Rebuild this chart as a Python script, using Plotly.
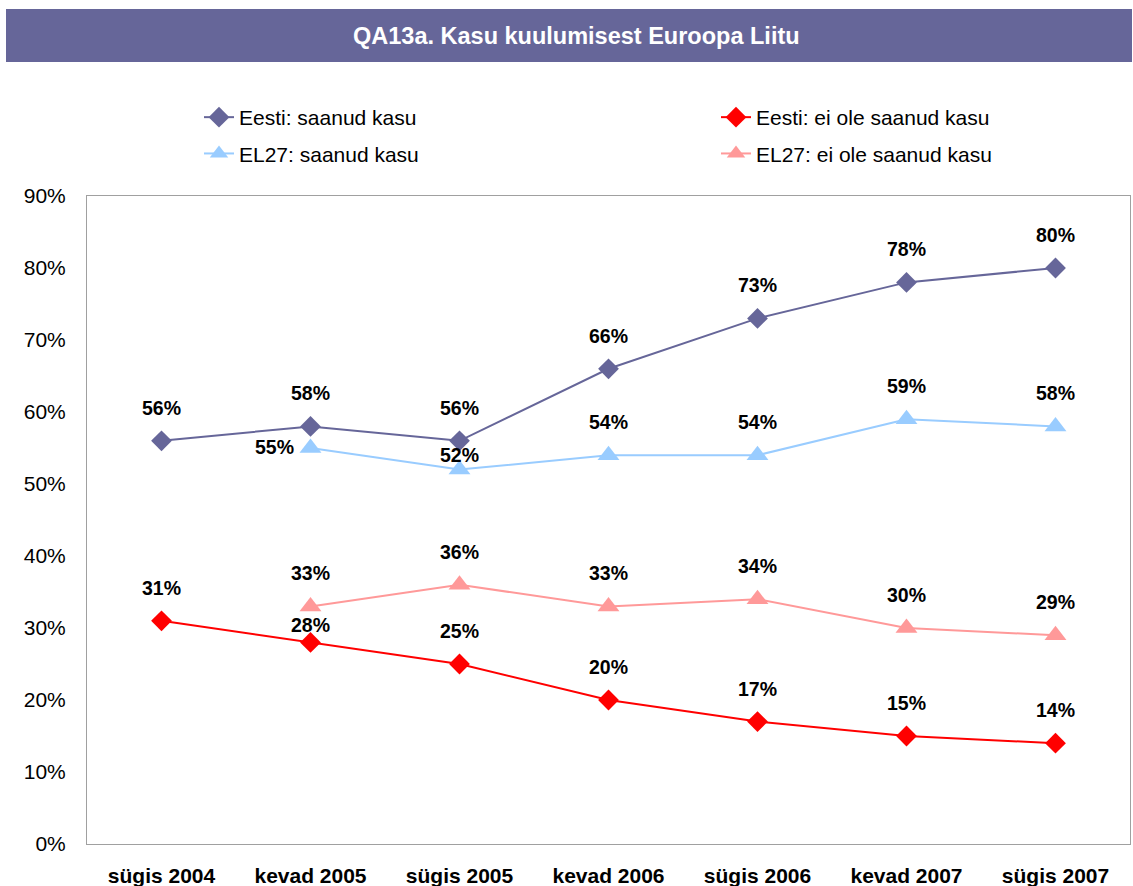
import plotly.graph_objects as go

categories = ["sügis 2004", "kevad 2005", "sügis 2005", "kevad 2006", "sügis 2006", "kevad 2007", "sügis 2007"]
eesti_saanud = [56, 58, 56, 66, 73, 78, 80]
eesti_ei_ole = [31, 28, 25, 20, 17, 15, 14]
el27_saanud = [None, 55, 52, 54, 54, 59, 58]
el27_ei_ole = [None, 33, 36, 33, 34, 30, 29]
y_ticks = [0, 10, 20, 30, 40, 50, 60, 70, 80, 90]

FONT = "Arial, 'Liberation Sans', sans-serif"

# plot-area geometry in pixels (used only to place decoration in paper coords)
PL, PR, PT, PB = 87, 1130, 196, 844
PW, PH = PR - PL, PB - PT


def px_x(x):
    return (x - PL) / PW


def px_y(y):
    return (PB - y) / PH


series = [
    ("Eesti: saanud kasu", eesti_saanud, "#666699", "diamond", 16, "legend"),
    ("EL27: saanud kasu", el27_saanud, "#99CCFF", "triangle-up", 19, "legend"),
    ("Eesti: ei ole saanud kasu", eesti_ei_ole, "#FF0000", "diamond", 16, "legend2"),
    ("EL27: ei ole saanud kasu", el27_ei_ole, "#FF9999", "triangle-up", 19, "legend2"),
]

# label placement overrides (xshift, yshift) by (series name, index)
label_shift = {
    ("EL27: saanud kasu", 1): (-36, 1),
    ("EL27: saanud kasu", 2): (0, 15),
    ("Eesti: ei ole saanud kasu", 1): (0, 17),
}

fig = go.Figure()
annotations = []
for i, (name, vals, color, sym, size, leg) in enumerate(series):
    fig.add_trace(go.Scatter(
        x=categories, y=vals, name=name, mode="lines+markers",
        line=dict(color=color, width=2),
        marker=dict(symbol=sym, size=size, color=color),
        legend=leg, legendgroup=name, connectgaps=False,
    ))
    for j, v in enumerate(vals):
        if v is None:
            continue
        xs, ys = label_shift.get((name, j), (0, 33))
        annotations.append(dict(
            x=categories[j], y=v, text=f"{v}%", showarrow=False,
            xshift=xs, yshift=ys, xref="x", yref="y",
            font=dict(family=FONT, size=19.5, color="black", weight="bold"),
        ))

annotations.append(dict(
    x=px_x(576), y=px_y(36), xref="paper", yref="paper",
    text="<b>QA13a. Kasu kuulumisest Euroopa Liitu</b>", showarrow=False,
    font=dict(family=FONT, size=23.5, color="white"),
    xanchor="center", yanchor="middle",
))

fig.update_layout(
    width=1133, height=886,
    margin=dict(l=PL, r=1133 - PR, t=PT, b=886 - PB, autoexpand=False),
    paper_bgcolor="white", plot_bgcolor="white",
    font=dict(family=FONT, size=21, color="black"),
    showlegend=True,
    legend=dict(x=px_x(199), y=px_y(97), xanchor="left", yanchor="top",
                orientation="v", tracegroupgap=6, font=dict(size=21, family=FONT),
                bgcolor="rgba(0,0,0,0)"),
    legend2=dict(x=px_x(716), y=px_y(97), xanchor="left", yanchor="top",
                 orientation="v", tracegroupgap=6, font=dict(size=21, family=FONT),
                 bgcolor="rgba(0,0,0,0)"),
    annotations=annotations,
    shapes=[dict(type="rect", xref="paper", yref="paper",
                 x0=px_x(6), x1=px_x(1132),
                 y0=px_y(62), y1=px_y(9),
                 fillcolor="#666699", line=dict(width=0), layer="below")],
    xaxis=dict(type="category", range=[-0.5, 6.5], showgrid=False, automargin=False,
               showline=True, mirror=True, linecolor="#A0A0A0", linewidth=1,
               ticks="", ticklabelstandoff=13,
               tickfont=dict(family=FONT, size=21, color="black", weight="bold")),
    yaxis=dict(range=[0, 90], tickvals=y_ticks, ticktext=[f"{t}%" for t in y_ticks],
               showgrid=False, zeroline=False, automargin=False,
               showline=True, mirror=True, linecolor="#A0A0A0", linewidth=1,
               ticks="", ticklabelstandoff=16,
               tickfont=dict(family=FONT, size=21, color="black")),
)

fig.write_html("out.html", config={"displayModeBar": False},
               post_script="document.body.style.margin='0';document.body.style.overflow='hidden';")
